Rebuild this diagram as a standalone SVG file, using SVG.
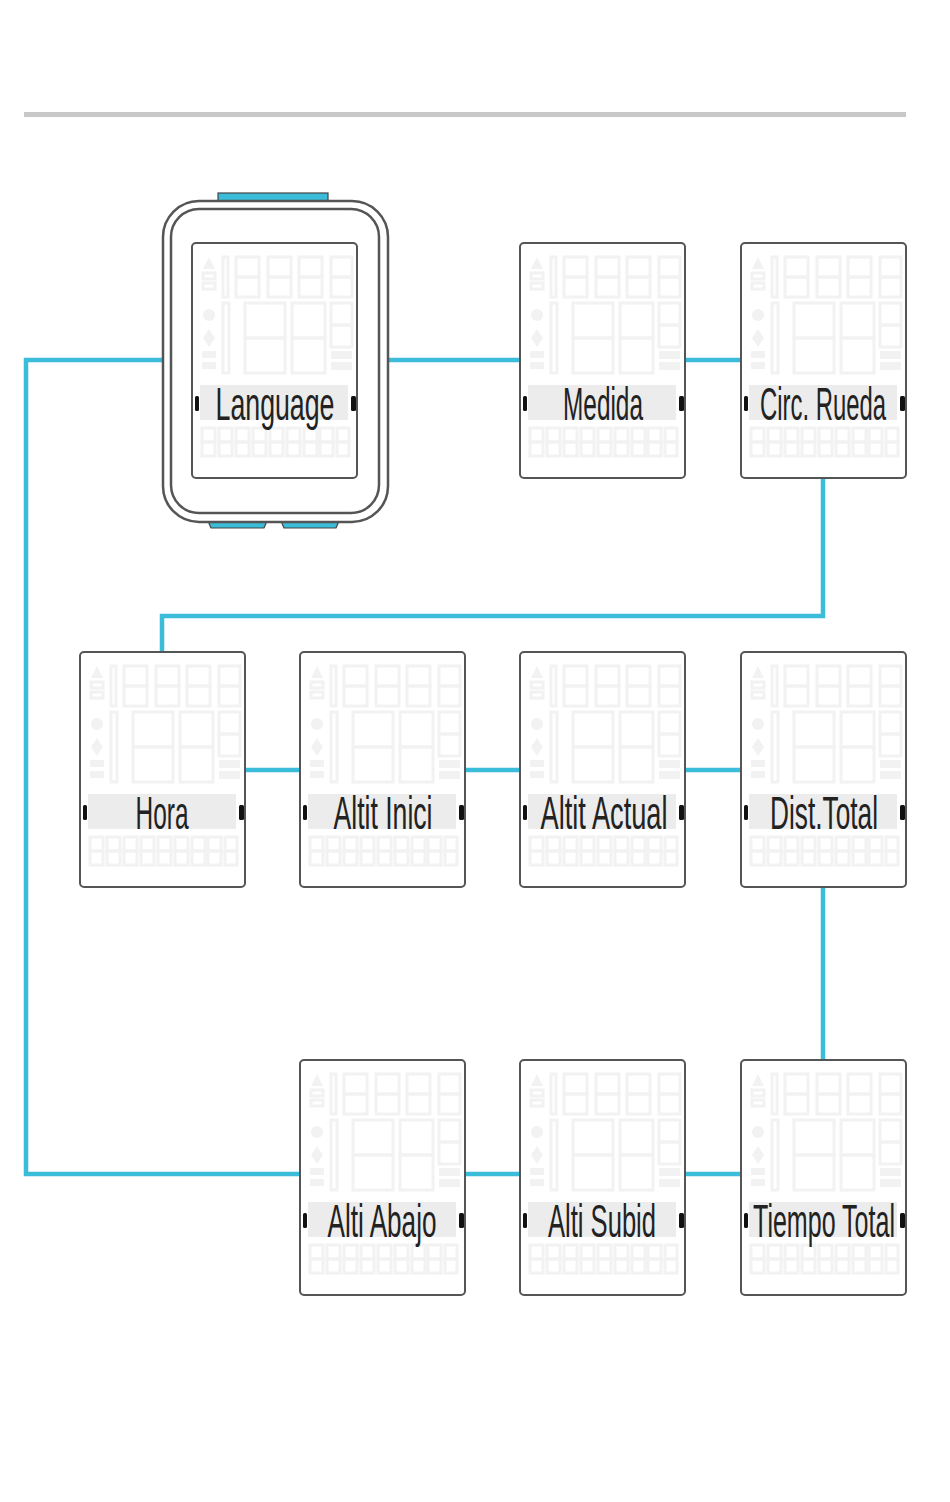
<svg xmlns="http://www.w3.org/2000/svg" xmlns:xlink="http://www.w3.org/1999/xlink" width="950" height="1502" viewBox="0 0 950 1502">
<style>
.conn{fill:none;stroke:#3bbcd9;stroke-width:4.5;stroke-linejoin:miter;stroke-linecap:butt}
.frame{fill:#fff;stroke:#555;stroke-width:2}
.ghost{fill:none;stroke:#f2f2f2;stroke-width:3}
.ghostf{fill:#f2f2f2}
.band{fill:#ececec}
.ind{fill:#111}
.lbl{font-family:"Liberation Sans",Arial,sans-serif;font-size:24px;fill:#222;text-anchor:middle}
.body{fill:#fff;stroke:#555;stroke-width:2.5}
.btn{fill:#3bbcd9;stroke:#444;stroke-width:1.2}
</style>
<defs>
<g id="lcd">
<rect class="frame" x="0" y="0" width="165" height="235" rx="4"/>
<g class="ghost">
<rect x="31" y="14" width="5" height="40"/>
<rect x="44" y="14" width="23" height="20"/><rect x="44" y="34" width="23" height="20"/>
<rect x="76" y="14" width="23" height="20"/><rect x="76" y="34" width="23" height="20"/>
<rect x="107" y="14" width="23" height="20"/><rect x="107" y="34" width="23" height="20"/>
<rect x="139" y="14" width="21" height="20"/><rect x="139" y="34" width="21" height="20"/>
<rect x="31" y="60" width="6" height="70"/>
<rect x="53" y="60" width="40" height="35"/><rect x="53" y="95" width="40" height="35"/>
<rect x="100" y="60" width="33" height="35"/><rect x="100" y="95" width="33" height="35"/>
<rect x="139" y="60" width="21" height="22"/><rect x="139" y="82" width="21" height="22"/>
<rect x="11" y="30" width="12" height="6"/><rect x="11" y="40" width="12" height="6"/>
<rect x="10" y="185" width="13" height="14"/><rect x="10" y="199" width="13" height="14"/>
<rect x="27" y="185" width="13" height="14"/><rect x="27" y="199" width="13" height="14"/>
<rect x="44" y="185" width="13" height="14"/><rect x="44" y="199" width="13" height="14"/>
<rect x="61" y="185" width="13" height="14"/><rect x="61" y="199" width="13" height="14"/>
<rect x="78" y="185" width="13" height="14"/><rect x="78" y="199" width="13" height="14"/>
<rect x="95" y="185" width="13" height="14"/><rect x="95" y="199" width="13" height="14"/>
<rect x="112" y="185" width="13" height="14"/><rect x="112" y="199" width="13" height="14"/>
<rect x="128" y="185" width="13" height="14"/><rect x="128" y="199" width="13" height="14"/>
<rect x="145" y="185" width="12" height="14"/><rect x="145" y="199" width="12" height="14"/>
</g>
<g class="ghostf">
<polygon points="17,14 23,26 11,26"/>
<circle cx="17" cy="72" r="6"/>
<polygon points="17,86 23,95 17,104 11,95"/>
<rect x="10" y="108" width="14" height="7"/><rect x="10" y="119" width="14" height="7"/>
<rect x="139" y="108" width="21" height="8"/><rect x="139" y="119" width="21" height="8"/>
</g>
<rect class="band" x="8" y="142" width="148" height="35"/>
<rect class="ind" x="3" y="153" width="4" height="15" rx="1.5"/>
<rect class="ind" x="159" y="153" width="5" height="15" rx="1.5"/>
</g>
</defs>
<rect x="0" y="0" width="950" height="1502" fill="#fff"/>
<rect x="24" y="112" width="882" height="5" fill="#c8c8c8"/>
<g id="connectors">
<polyline class="conn" points="163,360 26,360 26,1174 300,1174"/>
<line class="conn" x1="388" y1="360" x2="520" y2="360"/>
<line class="conn" x1="685" y1="360" x2="741" y2="360"/>
<polyline class="conn" points="823,478 823,616 162,616 162,652"/>
<line class="conn" x1="245" y1="770" x2="300" y2="770"/>
<line class="conn" x1="465" y1="770" x2="520" y2="770"/>
<line class="conn" x1="685" y1="770" x2="741" y2="770"/>
<line class="conn" x1="823" y1="886" x2="823" y2="1060"/>
<line class="conn" x1="465" y1="1174" x2="520" y2="1174"/>
<line class="conn" x1="685" y1="1174" x2="741" y2="1174"/>
</g>
<g id="node-language">
<rect class="btn" x="218" y="193" width="110" height="9"/>
<polygon class="btn" points="208,521 267,521 264,528 211,528"/>
<polygon class="btn" points="281,521 339,521 336,528 284,528"/>
<rect class="body" x="163" y="201" width="225" height="321" rx="36"/>
<rect class="body" x="171" y="209" width="208" height="304" rx="28"/>
<use xlink:href="#lcd" x="192" y="243"/>
<text class="lbl" transform="translate(275,420) scale(1,1.9)" textLength="119" lengthAdjust="spacingAndGlyphs">Language</text>
</g>
<g id="node-medida">
<use xlink:href="#lcd" x="520" y="243"/>
<text class="lbl" transform="translate(603,420) scale(1,1.9)" textLength="80" lengthAdjust="spacingAndGlyphs">Medida</text>
</g>
<g id="node-circ">
<use xlink:href="#lcd" x="741" y="243"/>
<text class="lbl" transform="translate(823,420) scale(1,1.9)" textLength="126" lengthAdjust="spacingAndGlyphs">Circ. Rueda</text>
</g>
<g id="node-hora">
<use xlink:href="#lcd" x="80" y="652"/>
<text class="lbl" transform="translate(162,829) scale(1,1.9)" textLength="53" lengthAdjust="spacingAndGlyphs">Hora</text>
</g>
<g id="node-altit-inici">
<use xlink:href="#lcd" x="300" y="652"/>
<text class="lbl" transform="translate(383,829) scale(1,1.9)" textLength="99" lengthAdjust="spacingAndGlyphs">Altit Inici</text>
</g>
<g id="node-altit-actual">
<use xlink:href="#lcd" x="520" y="652"/>
<text class="lbl" transform="translate(604,829) scale(1,1.9)" textLength="127" lengthAdjust="spacingAndGlyphs">Altit Actual</text>
</g>
<g id="node-dist-total">
<use xlink:href="#lcd" x="741" y="652"/>
<text class="lbl" transform="translate(824,829) scale(1,1.9)" textLength="108" lengthAdjust="spacingAndGlyphs">Dist.Total</text>
</g>
<g id="node-alti-abajo">
<use xlink:href="#lcd" x="300" y="1060"/>
<text class="lbl" transform="translate(382,1237) scale(1,1.9)" textLength="109" lengthAdjust="spacingAndGlyphs">Alti Abajo</text>
</g>
<g id="node-alti-subid">
<use xlink:href="#lcd" x="520" y="1060"/>
<text class="lbl" transform="translate(602,1237) scale(1,1.9)" textLength="108" lengthAdjust="spacingAndGlyphs">Alti Subid</text>
</g>
<g id="node-tiempo-total">
<use xlink:href="#lcd" x="741" y="1060"/>
<text class="lbl" transform="translate(824,1237) scale(1,1.9)" textLength="142" lengthAdjust="spacingAndGlyphs">Tiempo Total</text>
</g>
</svg>
